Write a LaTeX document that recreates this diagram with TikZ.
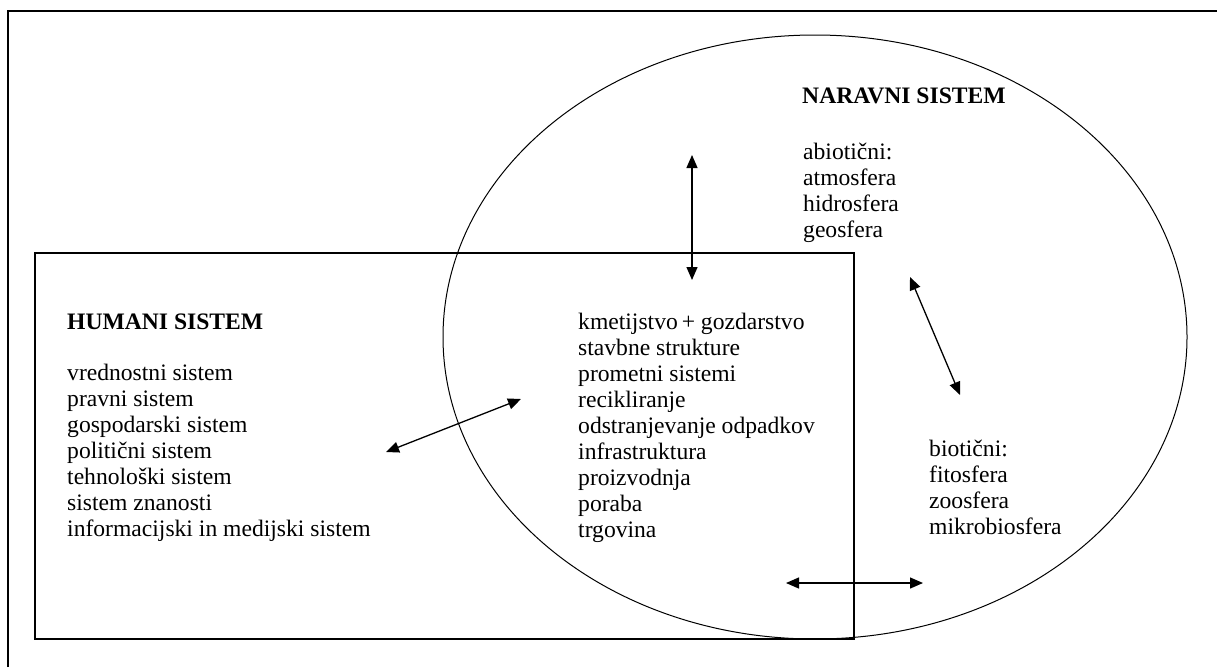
\documentclass[tikz,border=0pt]{standalone}
\usepackage{fontspec}
\setmainfont{Liberation Serif}
\usetikzlibrary{arrows.meta,shapes.geometric}
\tikzset{
  txt/.style={anchor=base west, inner sep=0pt, align=left, font=\fontsize{23.6}{26}\selectfont},
  head/.style={anchor=base west, inner sep=0pt, font=\fontsize{23.6}{26}\selectfont\bfseries},
  arr/.style={line width=1.3pt, {Triangle[length=13pt,width=11pt]}-{Triangle[length=13pt,width=11pt]}},
}
\begin{document}
\begin{tikzpicture}[x=1pt,y=-1pt]
\useasboundingbox (0,0) rectangle (1217,667);
% frame (top and left only)
\draw[line width=2.6pt] (8,667) -- (8,11) -- (1217,11);
% natural system ellipse
\node[draw, ellipse, line width=1pt, minimum width=744pt, minimum height=604pt, inner sep=0pt] (nat) at (815,337) {};
% human system rectangle
\draw[line width=1.3pt] (35,253) rectangle (854,639);
% texts (anchored at the baseline of their last line)
\node[head] (nh) at (802,103) {NARAVNI SISTEM};
\node[txt] (abio) at (803,237) {abiotični:\\atmosfera\\hidrosfera\\geosfera};
\node[head] (hh) at (67,329) {HUMANI SISTEM};
\node[txt] (hum) at (67,536) {vrednostni sistem\\pravni sistem\\gospodarski sistem\\politični sistem\\tehnološki sistem\\sistem znanosti\\informacijski in medijski sistem};
\node[txt] (mid) at (578,537) {kmetijstvo\,+ gozdarstvo\\stavbne strukture\\prometni sistemi\\recikliranje\\odstranjevanje odpadkov\\infrastruktura\\proizvodnja\\poraba\\trgovina};
\node[txt] (bio) at (929,534) {biotični:\\fitosfera\\zoosfera\\mikrobiosfera};
% arrows
\coordinate (v1) at (692,155);
\coordinate (v2) at (692,280);
\coordinate (d1) at (910,277);
\coordinate (d2) at (960,395);
\coordinate (l1) at (521,399);
\coordinate (l2) at (386,452);
\coordinate (h1) at (786,583);
\coordinate (h2) at (923,583);
\draw[arr] (v1) -- (v2);
\draw[arr] (d1) -- (d2);
\draw[arr] (l1) -- (l2);
\draw[arr] (h1) -- (h2);
\end{tikzpicture}
\end{document}
